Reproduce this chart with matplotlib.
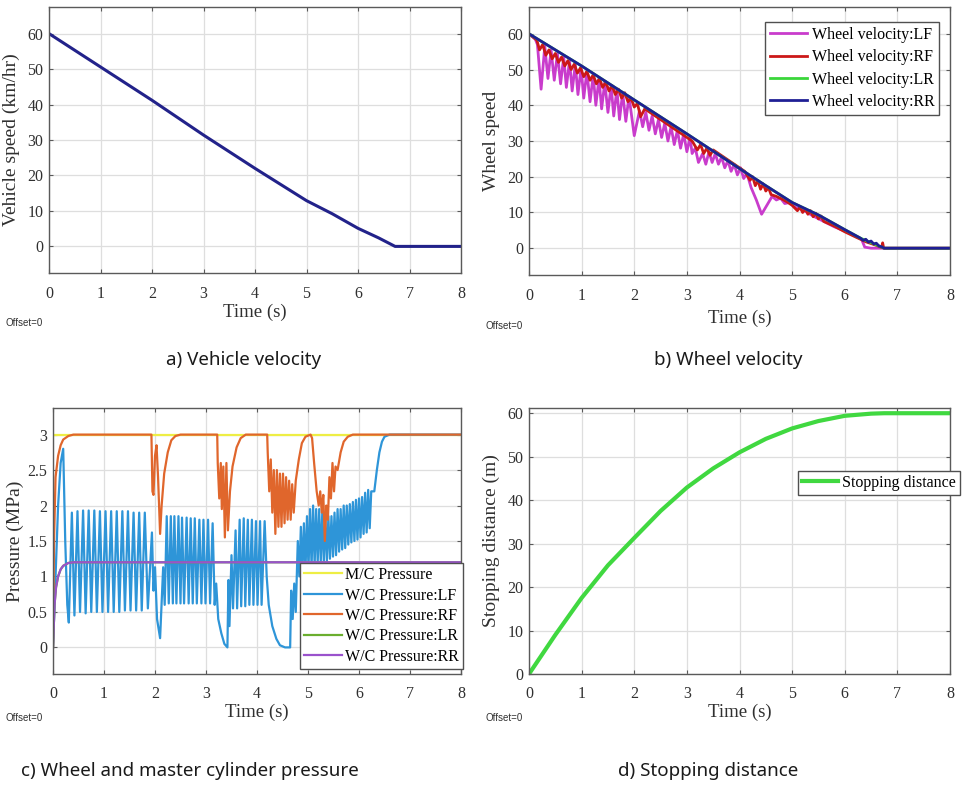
import matplotlib.pyplot as plt
import numpy as np

# ---- a) vehicle speed (km/hr) vs time (s)
vehicle_speed = [(0, 60), (1, 50.6), (2, 41.2), (3, 31.4), (4, 22.0), (5, 12.9),
                 (5.5, 9.2), (6, 5.1), (6.4, 2.4), (6.72, 0), (8, 0)]

# ---- b) wheel speeds
wheel_lf = [(0, 60), (0.12, 58.5), (0.16, 57), (0.23, 44.5), (0.3, 56.5), (0.36, 47.5),
            (0.42, 55.5), (0.48, 47), (0.54, 54.5), (0.6, 46), (0.66, 53.5), (0.71, 45),
            (0.77, 52.5), (0.82, 44), (0.88, 51.5), (0.93, 43), (0.99, 50.5), (1.04, 42),
            (1.1, 49.5), (1.16, 41), (1.22, 48.5), (1.27, 40), (1.33, 47.5), (1.38, 39),
            (1.44, 46.5), (1.5, 38), (1.56, 45.5), (1.61, 37), (1.67, 44.5), (1.72, 36),
            (1.78, 43.5), (1.84, 35.5), (1.9, 42.5), (2.0, 31.5), (2.1, 38.5), (2.16, 34),
            (2.22, 38), (2.28, 33), (2.34, 37), (2.4, 32), (2.46, 36), (2.52, 31),
            (2.58, 35), (2.64, 30), (2.7, 34), (2.76, 29), (2.82, 33), (2.88, 28),
            (2.94, 32), (3.0, 27), (3.06, 31), (3.1, 26.5), (3.16, 28), (3.22, 24),
            (3.3, 26.5), (3.36, 23.5), (3.42, 27), (3.48, 24), (3.54, 26.5), (3.6, 23.5),
            (3.66, 25.5), (3.72, 22.5), (3.78, 24.5), (3.84, 21.5), (3.9, 23.5), (3.96, 20.5),
            (4.02, 22.5), (4.08, 19.5), (4.14, 21), (4.22, 17), (4.32, 13.5), (4.42, 9.5),
            (4.52, 12), (4.62, 14.5), (4.7, 13.5), (4.78, 14), (4.86, 12.5), (4.95, 12.8),
            (5.05, 11.5), (5.2, 10.8), (5.4, 9.0), (5.6, 7.5), (5.8, 6.0), (6.0, 4.8),
            (6.2, 3.3), (6.32, 2.5), (6.38, 0.3), (6.5, 0), (8, 0)]
wheel_rf = [(0, 60), (0.15, 58.2), (0.2, 55.5), (0.26, 57), (0.32, 54), (0.38, 55.5),
            (0.44, 53), (0.5, 54.5), (0.56, 52), (0.62, 53.5), (0.68, 51), (0.74, 52.5),
            (0.8, 50), (0.86, 51.5), (0.92, 49), (0.98, 50.5), (1.04, 48), (1.1, 49.5),
            (1.16, 47), (1.22, 48.5), (1.28, 46), (1.34, 47.5), (1.4, 45), (1.46, 46.5),
            (1.52, 44), (1.58, 45.5), (1.64, 43), (1.7, 44.5), (1.76, 42), (1.82, 43.5),
            (1.88, 41), (1.94, 42), (2.0, 39.5), (2.06, 40.5), (2.12, 36.8), (2.2, 39),
            (2.3, 38), (2.4, 37), (2.5, 36), (2.6, 35), (2.7, 34), (2.8, 33), (2.9, 32),
            (3.0, 31), (3.1, 30), (3.2, 27.5), (3.26, 29), (3.32, 26.5), (3.38, 28),
            (3.44, 26), (3.5, 27.5), (3.6, 26.5), (3.7, 25.5), (3.8, 24.5), (3.9, 23.5),
            (4.0, 22.5), (4.1, 21.5), (4.2, 19), (4.25, 20), (4.3, 17.5), (4.35, 19),
            (4.4, 16.5), (4.45, 18), (4.5, 16), (4.55, 17), (4.6, 15), (4.7, 14.5),
            (4.8, 13.8), (4.9, 13), (5.0, 12), (5.1, 10.5), (5.15, 11.5), (5.2, 10),
            (5.25, 11), (5.3, 9.5), (5.35, 10.5), (5.4, 8.8), (5.45, 9.8), (5.5, 8.2),
            (5.55, 9), (5.6, 7.5), (5.8, 6.2), (6.0, 4.6), (6.2, 3.2), (6.4, 1.8),
            (6.6, 0.8), (6.7, 0.2), (6.72, 1.5), (6.74, 0), (8, 0)]
wheel_lr = [(0, 60), (1, 51), (2, 41.5), (3, 32), (4, 22.3), (4.5, 17.5), (5, 12.8),
            (5.5, 9.3), (6, 5.2), (6.3, 2.8), (6.7, 0.3), (6.75, 0), (8, 0)]
wheel_rr = [(0, 60), (1, 51), (2, 41.5), (3, 32), (4, 22.3), (4.5, 17.5), (5, 12.8),
            (5.5, 9.3), (6, 5.2), (6.3, 2.8), (6.35, 2.2), (6.4, 2.5), (6.45, 1.7),
            (6.5, 2.0), (6.55, 1.2), (6.6, 1.4), (6.65, 0.6), (6.7, 0.4), (6.75, 0), (8, 0)]

# ---- c) pressures (MPa)
mc_pressure = [(0, 3.0), (8, 3.0)]
wc_lf = [(0, 0), (0.05, 1.0), (0.1, 2.0), (0.15, 2.6), (0.2, 2.8), (0.24, 1.5), (0.28, 0.6),
         (0.31, 0.35), (0.37, 1.9), (0.42, 0.45), (0.48, 1.92), (0.53, 0.5), (0.59, 1.93),
         (0.64, 0.48), (0.7, 1.93), (0.75, 0.5), (0.81, 1.93), (0.86, 0.5), (0.92, 1.92),
         (0.97, 0.5), (1.03, 1.92), (1.08, 0.5), (1.14, 1.92), (1.19, 0.5), (1.25, 1.92),
         (1.3, 0.5), (1.36, 1.92), (1.41, 0.52), (1.47, 1.92), (1.52, 0.52), (1.58, 1.9),
         (1.63, 0.52), (1.69, 1.9), (1.74, 0.52), (1.8, 1.9), (1.86, 0.55), (1.94, 1.62),
         (1.97, 0.8), (2.0, 1.13), (2.04, 0.4), (2.1, 0.13), (2.16, 1.13), (2.19, 0.6),
         (2.23, 1.85), (2.27, 0.62), (2.31, 1.85), (2.35, 0.62), (2.38, 1.85), (2.42, 0.62),
         (2.46, 1.85), (2.5, 0.62), (2.53, 1.83), (2.57, 0.62), (2.62, 1.83), (2.66, 0.62),
         (2.7, 1.82), (2.74, 0.62), (2.78, 1.82), (2.82, 0.62), (2.87, 1.8), (2.91, 0.62),
         (2.95, 1.8), (2.99, 0.62), (3.04, 1.8), (3.08, 0.62), (3.13, 1.75), (3.17, 0.6),
         (3.2, 0.9), (3.24, 0.4), (3.3, 0.2), (3.36, 0.05), (3.42, 0.0), (3.44, 0.95),
         (3.46, 0.3), (3.5, 1.3), (3.53, 0.55), (3.58, 1.65), (3.61, 0.55), (3.66, 1.8),
         (3.69, 0.58), (3.74, 1.82), (3.77, 0.58), (3.82, 1.8), (3.85, 0.6), (3.9, 1.8),
         (3.93, 0.6), (3.98, 1.78), (4.01, 0.6), (4.06, 1.78), (4.09, 0.6), (4.15, 1.78),
         (4.19, 1.0), (4.23, 0.6), (4.3, 0.3), (4.38, 0.12), (4.45, 0.03), (4.55, 0.0),
         (4.65, 0.0), (4.67, 0.8), (4.7, 0.4), (4.73, 0.9), (4.76, 0.5), (4.8, 1.5),
         (4.83, 1.0), (4.86, 1.7), (4.89, 1.05), (4.92, 1.75), (4.95, 1.05), (4.98, 1.85),
         (5.01, 1.1), (5.04, 1.95), (5.07, 1.12), (5.1, 2.0), (5.13, 1.15), (5.16, 1.95),
         (5.19, 1.18), (5.22, 1.95), (5.25, 1.2), (5.28, 1.9), (5.31, 1.2), (5.34, 1.85),
         (5.37, 1.22), (5.4, 1.85), (5.43, 1.25), (5.46, 1.85), (5.49, 1.28), (5.52, 1.9),
         (5.55, 1.3), (5.58, 1.95), (5.61, 1.35), (5.64, 1.95), (5.67, 1.38), (5.7, 2.0),
         (5.73, 1.4), (5.76, 2.0), (5.79, 1.45), (5.82, 2.02), (5.85, 1.48), (5.88, 2.05),
         (5.91, 1.5), (5.94, 2.08), (5.97, 1.52), (6.0, 2.1), (6.03, 1.55), (6.06, 2.12),
         (6.09, 1.6), (6.12, 2.18), (6.15, 1.62), (6.18, 2.22), (6.21, 1.68), (6.24, 2.2),
         (6.3, 2.2), (6.35, 2.5), (6.4, 2.75), (6.45, 2.9), (6.5, 2.97), (6.6, 3.0), (8, 3.0)]
wc_rf = [(0, 0), (0.02, 1.5), (0.05, 2.4), (0.1, 2.7), (0.15, 2.85), (0.2, 2.93), (0.3, 2.98),
         (0.4, 3.0), (1.93, 3.0), (1.95, 2.2), (1.97, 2.15), (2.0, 2.7), (2.03, 2.85),
         (2.06, 2.4), (2.1, 1.6), (2.13, 2.0), (2.18, 2.45), (2.25, 2.75), (2.32, 2.92),
         (2.4, 2.98), (2.5, 3.0), (3.22, 3.0), (3.23, 2.6), (3.26, 2.1), (3.29, 2.6),
         (3.31, 1.95), (3.34, 2.55), (3.37, 1.55), (3.4, 2.6), (3.43, 1.65), (3.47, 2.2),
         (3.52, 2.55), (3.6, 2.82), (3.68, 2.95), (3.78, 3.0), (4.2, 3.0), (4.21, 2.75),
         (4.24, 2.2), (4.27, 2.65), (4.3, 1.9), (4.33, 2.5), (4.36, 1.6), (4.39, 2.5),
         (4.42, 1.7), (4.45, 2.45), (4.48, 1.7), (4.51, 2.45), (4.54, 1.75), (4.57, 2.4),
         (4.6, 1.8), (4.63, 2.35), (4.66, 1.8), (4.69, 2.3), (4.72, 1.9), (4.76, 2.35),
         (4.82, 2.65), (4.88, 2.88), (4.95, 2.97), (5.05, 3.0), (5.08, 2.95), (5.12, 2.6),
         (5.17, 2.2), (5.21, 2.0), (5.24, 2.2), (5.27, 1.9), (5.3, 2.15), (5.33, 1.5),
         (5.36, 2.0), (5.39, 1.8), (5.42, 2.4), (5.45, 2.1), (5.48, 2.6), (5.51, 2.2),
         (5.54, 2.55), (5.58, 2.5), (5.64, 2.75), (5.7, 2.9), (5.78, 2.97), (5.88, 3.0),
         (8, 3.0)]
wc_lr = [(0, 0), (0.03, 0.6), (0.06, 0.85), (0.1, 1.0), (0.15, 1.1), (0.2, 1.15),
         (0.3, 1.19), (0.4, 1.2), (8, 1.2)]
wc_rr = [(0, 0), (0.03, 0.6), (0.06, 0.85), (0.1, 1.0), (0.15, 1.1), (0.2, 1.15),
         (0.3, 1.19), (0.4, 1.2), (8, 1.2)]

# ---- d) stopping distance (m)
stop_dist = [(0, 0), (0.5, 9), (1, 17.5), (1.5, 25), (2, 31.3), (2.5, 37.5), (3, 42.9),
             (3.5, 47.3), (4, 51), (4.5, 54.1), (5, 56.5), (5.5, 58.2), (6, 59.4),
             (6.5, 59.9), (6.75, 60), (8, 60)]

SERIF = 'Liberation Serif'
TXT = '#303030'


def xy(pts):
    a = np.array(pts, dtype=float)
    return a[:, 0], a[:, 1]


fig = plt.figure(figsize=(9.63, 7.88), dpi=100)


def add_ax(l, t, r, b):
    return fig.add_axes([l / 963, 1 - b / 788, (r - l) / 963, (b - t) / 788])


def style(ax, ylim, yticks, ylabel, xlab_y):
    ax.set_xlim(0, 8)
    ax.set_ylim(*ylim)
    ax.set_xticks(range(9))
    ax.set_yticks(yticks)
    ax.grid(True, color='#dedede', linewidth=0.9)
    ax.set_axisbelow(True)
    for s in ax.spines.values():
        s.set_color('#5a5a5a')
        s.set_linewidth(1.0)
    ax.tick_params(direction='in', length=3, color='#5a5a5a', labelcolor=TXT,
                   top=True, right=True, labelsize=11.5)
    ax.tick_params(axis='x', pad=9)
    ax.tick_params(axis='y', pad=4)
    for lab in ax.get_xticklabels() + ax.get_yticklabels():
        lab.set_family(SERIF)
    ax.set_xlabel('Time (s)', family=SERIF, fontsize=13.5, color=TXT)
    ax.xaxis.set_label_coords(0.5, xlab_y)
    ax.set_ylabel(ylabel, family=SERIF, fontsize=14, color=TXT)
    # right edge of the rotated label sits 29 px left of the axes
    bb = ax.get_position()
    ax.yaxis.set_label_coords(-29 / (bb.width * 963), 0.5)


def legend(ax, **kw):
    opts = dict(prop={'family': SERIF, 'size': 11.5}, frameon=True, fancybox=False,
                edgecolor='#505050', framealpha=1, borderaxespad=0,
                handletextpad=0.3, borderpad=0.3)
    opts.update(kw)
    lg = ax.legend(**opts)
    lg.get_frame().set_linewidth(1.0)
    return lg


# a) Vehicle velocity
ax1 = add_ax(49, 7, 461, 273)
t, v = xy(vehicle_speed)
ax1.plot(t, v, color='#22228a', lw=2.2)
style(ax1, (-7.5, 67.5), range(0, 61, 10), 'Vehicle speed (km/hr)', -0.115)

# b) Wheel velocity
ax2 = add_ax(529, 7, 950, 275)
for pts, c, lab in [(wheel_lf, '#c93ccc', 'Wheel velocity:LF'),
                    (wheel_rf, '#cc1818', 'Wheel velocity:RF'),
                    (wheel_lr, '#3ad63a', 'Wheel velocity:LR'),
                    (wheel_rr, '#1f1f95', 'Wheel velocity:RR')]:
    t, v = xy(pts)
    ax2.plot(t, v, color=c, lw=2.0, label=lab)
style(ax2, (-7.5, 67.5), range(0, 61, 10), 'Wheel speed', -0.13)
legend(ax2, loc='upper right', bbox_to_anchor=(0.974, 0.944),
       handlelength=2.3, labelspacing=0.4)

# c) Pressures
ax3 = add_ax(53, 408, 461, 674)
for pts, c, lab in [(mc_pressure, '#eeee44', 'M/C Pressure'),
                    (wc_lf, '#2e95d8', 'W/C Pressure:LF'),
                    (wc_rf, '#e0662c', 'W/C Pressure:RF'),
                    (wc_lr, '#6aae2e', 'W/C Pressure:LR'),
                    (wc_rr, '#9a52cc', 'W/C Pressure:RR')]:
    t, v = xy(pts)
    ax3.plot(t, v, color=c, lw=1.6, label=lab)
style(ax3, (-0.375, 3.375), np.arange(0, 3.01, 0.5), 'Pressure (MPa)', -0.11)
ax3.set_yticklabels(['%g' % y for y in np.arange(0, 3.01, 0.5)], family=SERIF)
legend(ax3, loc='lower right', bbox_to_anchor=(1.005, 0.019),
       handlelength=2.4, labelspacing=0.28, borderpad=0.25, handletextpad=0.2)

# d) Stopping distance
ax4 = add_ax(529, 408, 950, 674)
t, v = xy(stop_dist)
ax4.plot(t, v, color='#40d840', lw=3, label='Stopping distance')
style(ax4, (0, 61.2), range(0, 61, 10), 'Stopping distance (m)', -0.11)
legend(ax4, loc='upper right', bbox_to_anchor=(1.024, 0.763), handlelength=2.2,
       borderpad=0.25)

# scope offset notes
for x, y in [(5, 323), (486, 326), (5, 718), (486, 718)]:
    fig.text(x / 963, 1 - y / 788, 'Offset=0', family='Liberation Sans', fontsize=7,
             color=TXT, va='center', ha='left')

# panel captions
for x, y, s in [(244, 360, 'a) Vehicle velocity'), (728, 360, 'b) Wheel velocity'),
                (190, 771, 'c) Wheel and master cylinder pressure'),
                (708, 771, 'd) Stopping distance')]:
    fig.text(x / 963, 1 - y / 788, s, family='Noto Sans', fontsize=13.5, color='#1a1a1a',
             ha='center', va='center')

fig.savefig('out.png', dpi=100, facecolor='white')
